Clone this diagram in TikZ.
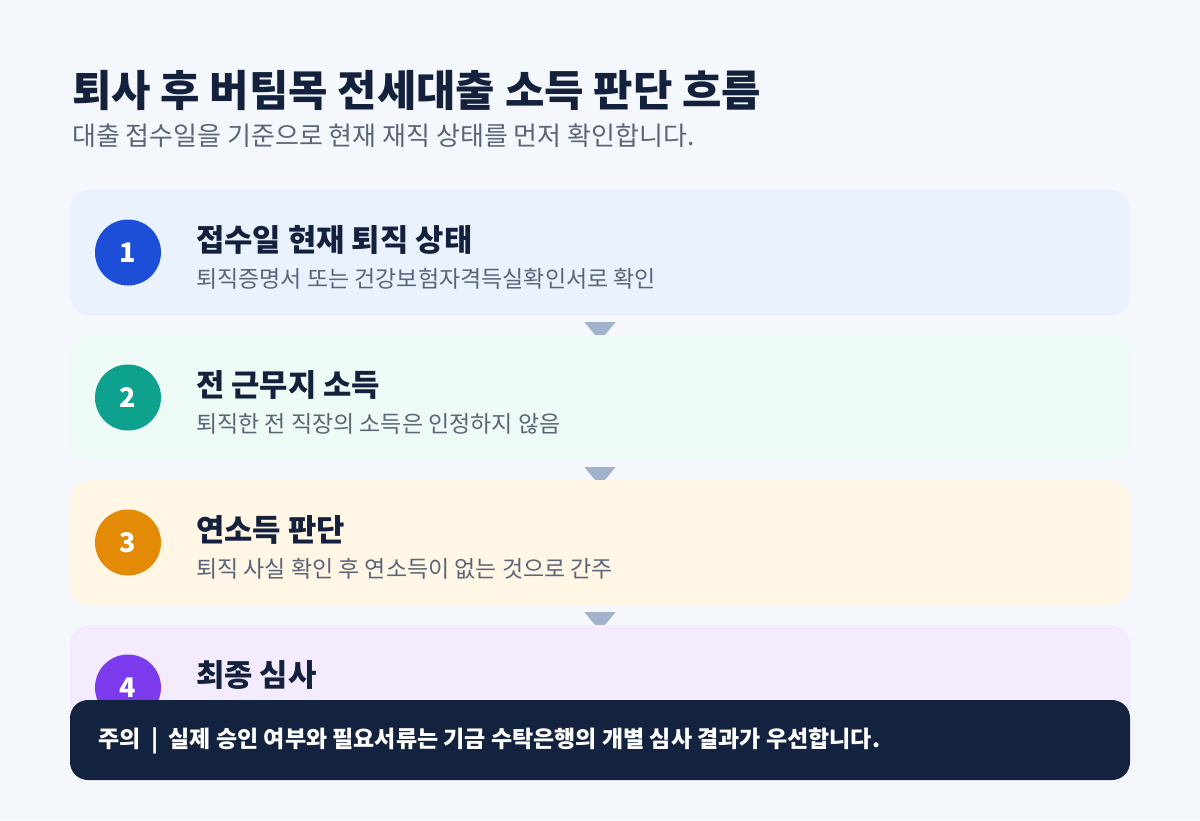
\documentclass[tikz,border=0pt]{standalone}
\usepackage{fontspec}
\setmainfont{Noto Sans CJK KR}
\usepackage{tikz}
\usetikzlibrary{calc}

\definecolor{bgc}{HTML}{F4F7FC}
\definecolor{inkc}{HTML}{14213D}
\definecolor{grayc}{HTML}{5B6577}
\definecolor{arrowc}{HTML}{A3B2CB}
\definecolor{cardA}{HTML}{E9F2FE}
\definecolor{cardB}{HTML}{EDFAF5}
\definecolor{cardC}{HTML}{FFF6E6}
\definecolor{cardD}{HTML}{F4ECFE}
\definecolor{numA}{HTML}{1D4ED8}
\definecolor{numB}{HTML}{0EA18E}
\definecolor{numC}{HTML}{E38A06}
\definecolor{numD}{HTML}{7C3AED}
\definecolor{footc}{HTML}{12223F}

\tikzset{
  card/.style={rectangle, rounded corners=20pt, minimum width=1060pt, minimum height=125pt, inner sep=0pt},
  numdot/.style={circle, minimum size=66pt, inner sep=0pt, text=white, font=\fontsize{27}{31}\selectfont\bfseries},
  steptitle/.style={anchor=west, inner sep=0pt, text=inkc, font=\fontsize{30.8}{36}\selectfont\bfseries},
  stepdesc/.style={anchor=west, inner sep=0pt, text=grayc, font=\fontsize{23}{28}\selectfont},
  link/.style={fill=arrowc}
}

\begin{document}
\begin{tikzpicture}[x=1pt,y=-1pt]
        \fill[bgc] (0,0) rectangle (1200,820);
        \useasboundingbox (0,0) rectangle (1200,820);

        \node[anchor=west, inner sep=0pt, text=inkc, font=\fontsize{42.8}{50}\selectfont\bfseries] (title) at (72,90) {퇴사 후 버팀목 전세대출 소득 판단 흐름};
        \node[anchor=west, inner sep=0pt, text=grayc, font=\fontsize{26}{31}\selectfont] (subtitle) at (72,136) {대출 접수일을 기준으로 현재 재직 상태를 먼저 확인합니다.};

        \node[card, fill=cardA] (c1) at (600,252.5) {};
        \node[card, fill=cardB] (c2) at (600,397.5) {};
        \node[card, fill=cardC] (c3) at (600,542.5) {};
        \node[card, fill=cardD] (c4) at (600,687.5) {};

        \fill[link] ($(c1.south)+(-15.5,7)$) -- ($(c1.south)+(15.5,7)$) -- ($(c2.north)+(5,0)$) -- ($(c2.north)+(-5,0)$) -- cycle;
        \fill[link] ($(c2.south)+(-15.5,7)$) -- ($(c2.south)+(15.5,7)$) -- ($(c3.north)+(5,0)$) -- ($(c3.north)+(-5,0)$) -- cycle;
        \fill[link] ($(c3.south)+(-15.5,7)$) -- ($(c3.south)+(15.5,7)$) -- ($(c4.north)+(5,0)$) -- ($(c4.north)+(-5,0)$) -- cycle;

        \node[numdot, fill=numA] (n1) at (128,252.5) {1};
        \node[steptitle] (t1) at (196,240) {접수일 현재 퇴직 상태};
        \node[stepdesc] (d1) at (196,279) {퇴직증명서 또는 건강보험자격득실확인서로 확인};

        \node[numdot, fill=numB] (n2) at (128,397.5) {2};
        \node[steptitle] (t2) at (196,385) {전 근무지 소득};
        \node[stepdesc] (d2) at (196,424) {퇴직한 전 직장의 소득은 인정하지 않음};

        \node[numdot, fill=numC] (n3) at (128,542.5) {3};
        \node[steptitle] (t3) at (196,530) {연소득 판단};
        \node[stepdesc] (d3) at (196,569) {퇴직 사실 확인 후 연소득이 없는 것으로 간주};

        \node[numdot, fill=numD] (n4) at (128,687.5) {4};
        \node[steptitle] (t4) at (196,675) {최종 심사};

        \node[rectangle, rounded corners=18pt, minimum width=1060pt, minimum height=80pt, inner sep=0pt, fill=footc] (note) at (600,740) {};
        \node[anchor=west, inner sep=0pt, text=white, font=\fontsize{23}{28}\selectfont\bfseries] (notetext) at (98,741) {주의 \ | \ 실제 승인 여부와 필요서류는 기금 수탁은행의 개별 심사 결과가 우선합니다.};

\end{tikzpicture}
\end{document}
